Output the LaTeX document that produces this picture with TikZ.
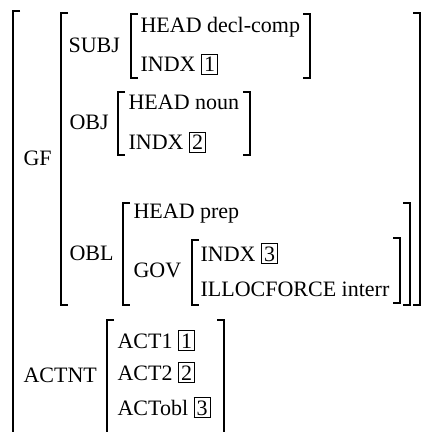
\documentclass[tikz,border=0pt]{standalone}
\usepackage{fontspec}
\setmainfont{Liberation Serif}
\setlength{\fboxsep}{1pt}
\setlength{\fboxrule}{0.5pt}
\newcommand{\tagbox}[1]{\fbox{#1}}
% left and right AVM brackets: x, top, bottom
\newcommand{\lbrk}[3]{\draw (#1+7,#2)--(#1,#2)--(#1,#3)--(#1+7,#3);}
\newcommand{\rbrk}[3]{\draw (#1-7,#2)--(#1,#2)--(#1,#3)--(#1-7,#3);}

\begin{document}
\begin{tikzpicture}[x=0.5pt, y=-0.5pt, line width=0.55pt,
  avm/.style={anchor=base west, inner sep=0pt, font=\rmfamily\fontsize{11}{13}\selectfont}]
\useasboundingbox (0,0) rectangle (422,432);
% outer matrix
\lbrk{13}{11}{440}
\node[avm] (gf) at (23,166) {GF};
\lbrk{61}{13}{305} \rbrk{420}{13}{305}
% SUBJ
\node[avm] (subj) at (68,53) {SUBJ};
\lbrk{131}{14}{78} \rbrk{310}{14}{78}
\node[avm] (subjhead) at (140,33) {HEAD decl-comp};
\node[avm] (subjindx) at (140,72) {INDX \tagbox{1}};
% OBJ
\node[avm] (obj) at (69,130) {OBJ};
\lbrk{118}{92}{155} \rbrk{250}{92}{155}
\node[avm] (objhead) at (128,110) {HEAD noun};
\node[avm] (objindx) at (128,150) {INDX \tagbox{2}};
% OBL
\node[avm] (obl) at (69,260) {OBL};
\lbrk{123}{203}{305} \rbrk{410}{203}{305}
\node[avm] (oblhead) at (133,219) {HEAD prep};
\node[avm] (gov) at (133,277) {GOV};
\lbrk{192}{240}{305} \rbrk{400}{238}{303}
\node[avm] (govindx) at (200,261) {INDX \tagbox{3}};
\node[avm] (govillo) at (200,296) {ILLOCFORCE interr};
% ACTNT
\node[avm] (actnt) at (23,382) {ACTNT};
\lbrk{107}{320}{440} \rbrk{224}{320}{440}
\node[avm] (act1) at (117,348) {ACT1 \tagbox{1}};
\node[avm] (act2) at (117,380) {ACT2 \tagbox{2}};
\node[avm] (actobl) at (117,415) {ACTobl \tagbox{3}};
\end{tikzpicture}
\end{document}
